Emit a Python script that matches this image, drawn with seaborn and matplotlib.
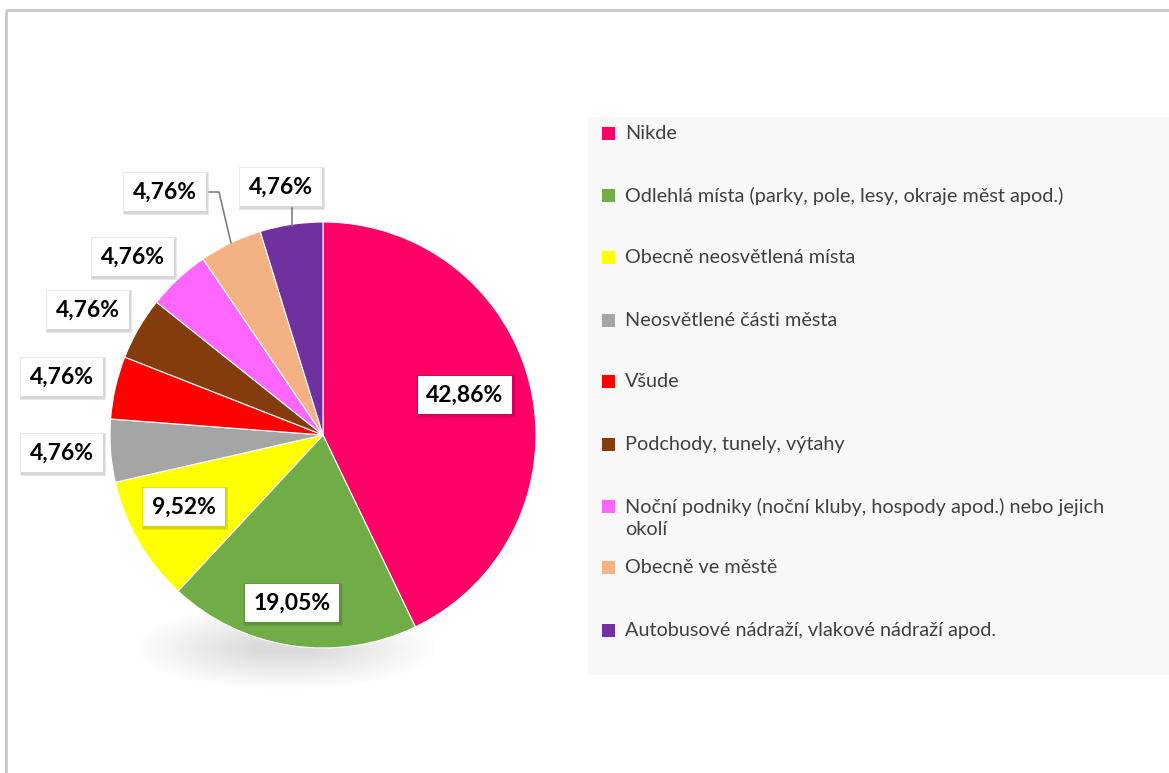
import matplotlib
matplotlib.use("Agg")
import matplotlib.pyplot as plt
import matplotlib.patches as mpatches
import seaborn as sns

categories = [
    "Nikde",
    "Odlehlá místa (parky, pole, lesy, okraje měst apod.)",
    "Obecně neosvětlená místa",
    "Neosvětlené části města",
    "Všude",
    "Podchody, tunely, výtahy",
    "Noční podniky (noční kluby, hospody apod.) nebo jejich\nokolí",
    "Obecně ve městě",
    "Autobusové nádraží, vlakové nádraží apod.",
]
values = [42.86, 19.05, 9.52, 4.76, 4.76, 4.76, 4.76, 4.76, 4.76]
value_labels = ["42,86%", "19,05%", "9,52%", "4,76%", "4,76%", "4,76%", "4,76%", "4,76%", "4,76%"]
colors = ["#FF0066", "#70AD47", "#FFFF00", "#A5A5A5", "#FF0000",
          "#843C0C", "#FF66FF", "#F4B183", "#7030A0"]

sns.set_theme(style="white")
plt.rcParams["font.family"] = ["Lato", "DejaVu Sans"]

W, H = 1169, 773
fig = plt.figure(figsize=(W / 100, H / 100), dpi=100)
fig.patch.set_facecolor("white")
ax = fig.add_axes([0, 0, 1, 1])

CX, CY, R = 323, 435, 213

# soft shadow below pie (gradient made of stacked faint ellipses)
n = 18
for i in range(n):
    f = 1 - i / n
    ax.add_patch(mpatches.Ellipse((285, 648), 60 + 240 * f, 8 + 75 * f,
                                  facecolor="#000000", alpha=0.009,
                                  edgecolor="none", zorder=0))

palette = sns.color_palette(colors)
wedges, _ = ax.pie(values, colors=palette, startangle=-90, counterclock=True,
                   center=(CX, CY), radius=R, frame=True,
                   wedgeprops=dict(linewidth=0.8, edgecolor="white"))
for w in wedges:
    w.set_zorder(2)

ax.set_xlim(0, W)
ax.set_ylim(H, 0)
ax.set_aspect("auto")
ax.axis("off")

# figure border
ax.add_patch(mpatches.Rectangle((6, 10), W, H, fill=False, edgecolor="#C8C8C8",
                                linewidth=2, zorder=1))

# data labels
label_pos = [(465, 395), (292, 603), (184, 507), (62, 453), (62, 377),
             (88, 310), (133, 257), (165, 192), (281, 187)]
for (x, y), t in zip(label_pos, value_labels):
    for k, a in [(4, 0.04), (3, 0.05), (2, 0.07)]:
        ax.text(x + 1, y + 1.5, t, ha="center", va="center", fontsize=16.5, weight="bold",
                color="#00000000", zorder=4,
                bbox=dict(boxstyle=f"square,pad={0.38 + k * 0.03}", facecolor="#000000",
                          alpha=a, edgecolor="none"))
    ax.text(x, y, t, ha="center", va="center", fontsize=16.5, weight="bold",
            color="black", zorder=5,
            bbox=dict(boxstyle="square,pad=0.38", facecolor="white", edgecolor="none"))

# leader lines
ax.plot([209, 219, 231], [192, 192, 243], color="#808080", linewidth=1.2, zorder=3)
ax.plot([292, 292], [208, 226], color="#808080", linewidth=1.2, zorder=3)

# legend
ax.add_patch(mpatches.Rectangle((588, 117), W - 588 + 5, 675 - 117,
                                facecolor="#F8F8F8", edgecolor="none", zorder=1))
leg_y = [133, 195, 257, 320, 381, 444, 506, 567, 630]
for y, c, lab in zip(leg_y, colors, categories):
    ax.add_patch(mpatches.Rectangle((602, y - 6.5), 13, 13, facecolor=c,
                                    edgecolor="none", zorder=3))
    ax.text(625, y - 8, lab, ha="left", va="top", fontsize=14.3, color="#404040",
            zorder=3, linespacing=1.35)

fig.savefig("out.png", dpi=100, facecolor="white")
